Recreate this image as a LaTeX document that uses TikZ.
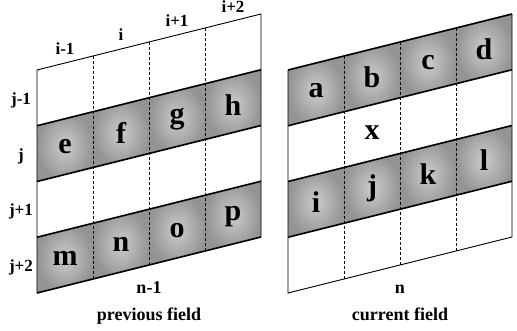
\documentclass[tikz,border=0pt]{standalone}
\usepackage{fontspec}
\setmainfont{Liberation Serif}
\begin{document}
\begin{tikzpicture}[x=1pt,y=-1pt,
  cellshade/.style={inner color=black!20, outer color=black!42},
  letter/.style={font=\fontsize{30}{32}\selectfont\bfseries, inner sep=0pt},
  lab/.style={font=\fontsize{17}{19}\selectfont\bfseries, inner sep=0pt, anchor=base},
  captext/.style={font=\fontsize{18}{20}\selectfont\bfseries, inner sep=0pt, anchor=base},
  divline/.style={densely dashed, line width=0.8pt},
  bandline/.style={line width=1.6pt},
  borderline/.style={line width=0.9pt}]
\useasboundingbox (0,0) rectangle (517,330);

% ---------- previous field ----------
\begin{scope}[shift={(37,70)}, x={(56pt,14pt)}, y={(0pt,-55.75pt)}]
  \foreach \r/\la/\lb/\lc/\ld in {1/e/f/g/h, 3/m/n/o/p}{
    \foreach \c/\t in {0/\la,1/\lb,2/\lc,3/\ld}{
      \shade[cellshade] (\c,\r) -- (\c+1,\r) -- (\c+1,\r+1) -- (\c,\r+1) -- cycle;
      \node[letter] (p\t) at (\c+0.5,\r+0.5) {\t};
    }
  }
  \foreach \c in {1,2,3}{
    \draw[divline] (\c,0) -- (\c,4);
  }
  \draw[borderline] (0,4) -- (0,0) -- (4,0) -- (4,4);
  \foreach \r in {1,2,3,4}{
    \draw[bandline] (0,\r) -- (4,\r);
  }
  \foreach \c/\t/\n in {0/i-1/a,1/i/b,2/i+1/c,3/i+2/d}{
    \node[lab, yshift=8.5pt] (col\n) at (\c+0.5,0) {\t};
  }
  \node[captext, yshift=-28pt] (prevn) at (2,4) {n-1};
  \node[captext, yshift=-55pt] (prevcap) at (2,4) {previous field};
\end{scope}
\node[lab] (rowa) at (21,104) {j-1};
\node[lab] (rowb) at (21,160) {j};
\node[lab] (rowc) at (21,215.5) {j+1};
\node[lab] (rowd) at (21,271.5) {j+2};

% ---------- current field ----------
\begin{scope}[shift={(288,70)}, x={(56pt,14pt)}, y={(0pt,-55.75pt)}]
  \foreach \r/\la/\lb/\lc/\ld in {0/a/b/c/d, 2/i/j/k/l}{
    \foreach \c/\t in {0/\la,1/\lb,2/\lc,3/\ld}{
      \shade[cellshade] (\c,\r) -- (\c+1,\r) -- (\c+1,\r+1) -- (\c,\r+1) -- cycle;
      \node[letter] (c\t) at (\c+0.5,\r+0.5) {\t};
    }
  }
  \node[letter] (cx) at (1.5,1.5) {x};
  \foreach \c in {1,2,3}{
    \draw[divline] (\c,0) -- (\c,4);
  }
  \draw[borderline] (0,0) -- (0,4) -- (4,4) -- (4,0);
  \foreach \r in {0,1,2,3}{
    \draw[bandline] (0,\r) -- (4,\r);
  }
  \node[captext, yshift=-28pt] (curn) at (2,4) {n};
  \node[captext, yshift=-55pt] (curcap) at (2,4) {current field};
\end{scope}
\end{tikzpicture}
\end{document}
